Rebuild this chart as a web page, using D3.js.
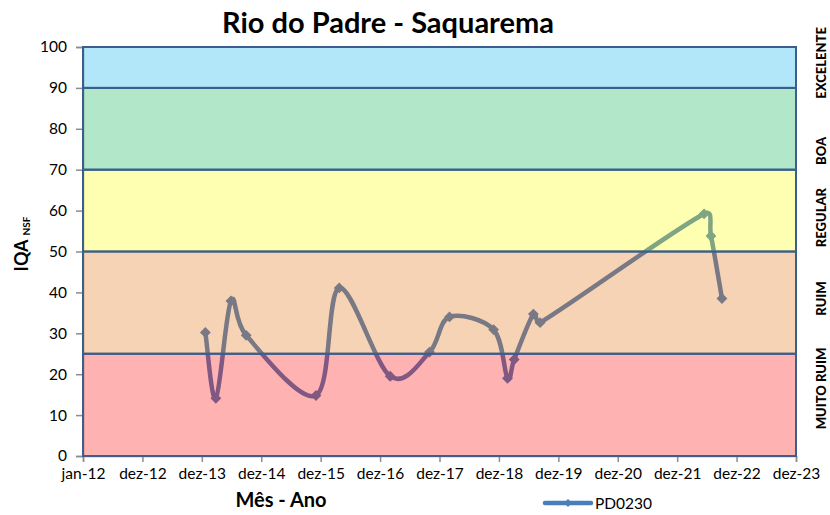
<!DOCTYPE html>
<html>
<head>
<meta charset="utf-8">
<script src="https://cdn.jsdelivr.net/npm/d3@7"></script>
<style>
  body { margin: 0; background: #fff; }
  text { font-family: Lato, "Open Sans", sans-serif; fill: #000; }
</style>
</head>
<body>
<svg id="drawing_region"></svg>
<script>
// amostras PD0230
const sampleDates = ["2014-01-17","2014-03-22","2014-06-22","2014-09-23","2015-11-23","2016-04-13",
    "2017-02-18","2017-10-16","2018-02-15","2018-11-11","2019-02-04","2019-03-17","2019-07-12",
    "2019-08-22","2022-05-19","2022-06-30","2022-09-05"];
const iqaValues = [30.2, 14.1, 37.9, 29.5, 14.8, 41.1, 19.5, 25.4, 34.0, 30.9, 19.0, 23.6, 34.7, 32.6, 59.2, 53.8, 38.5];

// faixas de qualidade
const bandLimits = [0, 25, 50, 70, 90, 100];
const bandNames = ["MUITO RUIM", "RUIM", "REGULAR", "BOA", "EXCELENTE"];
const bandColors = ["#FF0000", "#E46C0A", "#FFFF00", "#00B050", "#00B0F0"];
const bandLabelAt = [16.5, 38.5, 58.3, 74.6, 96.1];

const xTickLabels = ["jan-12","dez-12","dez-13","dez-14","dez-15","dez-16","dez-17",
    "dez-18","dez-19","dez-20","dez-21","dez-22","dez-23"];
const yTicks = [0, 10, 20, 30, 40, 50, 60, 70, 80, 90, 100];

const config = {
    width: 830,
    height: 515,
    margin: {top: 47, right: 34, bottom: 59, left: 83}
};

const parse = d3.timeParse("%Y-%m-%d");
const data = sampleDates.map((d, i) => ({date: parse(d), value: iqaValues[i]}));

const svg = d3.select("#drawing_region")
    .attr("width", config.width)
    .attr("height", config.height);

const inner_width = config.width - config.margin.left - config.margin.right;
const inner_height = config.height - config.margin.top - config.margin.bottom;

const chart = svg.append("g")
    .attr("transform", `translate(${config.margin.left}, ${config.margin.top})`);

const t0 = new Date(2012, 0, 1), t1 = new Date(2023, 11, 1);
const xscale = d3.scaleTime().domain([t0, t1]).range([0, inner_width]);
const yscale = d3.scaleLinear().domain([0, 100]).range([inner_height, 0]);

// excel divides the date range in 12 equal steps
const xTickValues = xTickLabels.map((l, i) => new Date(+t0 + i * (t1 - t0) / (xTickLabels.length - 1)));

// axes
const xaxis = d3.axisBottom(xscale)
    .tickValues(xTickValues)
    .tickFormat((d, i) => xTickLabels[i])
    .tickSize(6)
    .tickPadding(6);
const yaxis = d3.axisLeft(yscale)
    .tickValues(yTicks)
    .tickSize(7)
    .tickPadding(9);

const xg = chart.append("g")
    .attr("transform", `translate(0, ${inner_height})`)
    .call(xaxis);
const yg = chart.append("g").call(yaxis);
[xg, yg].forEach(g => {
    g.select(".domain").attr("stroke", "#8c8c8c").attr("stroke-width", 1.5);
    g.selectAll(".tick line").attr("stroke", "#8c8c8c").attr("stroke-width", 1.5);
    g.selectAll(".tick text").style("font-size", "15.5px").attr("fill", "#111");
});

// excel-like smoothing: catmull-rom tangents (1/6), clamped to half the segment
function smoothPath(pts) {
    const p = d3.path();
    const n = pts.length;
    const clamp = (v, lim) => {
        const len = Math.hypot(v[0], v[1]);
        return len > lim ? [v[0] * lim / len, v[1] * lim / len] : v;
    };
    p.moveTo(pts[0][0], pts[0][1]);
    for (let i = 0; i < n - 1; i++) {
        const a = pts[Math.max(i - 1, 0)], b = pts[i], c = pts[i + 1], d = pts[Math.min(i + 2, n - 1)];
        const half = Math.hypot(c[0] - b[0], c[1] - b[1]) / 2;
        const t1 = clamp([(c[0] - a[0]) / 6, (c[1] - a[1]) / 6], half);
        const t2 = clamp([(d[0] - b[0]) / 6, (d[1] - b[1]) / 6], half);
        p.bezierCurveTo(b[0] + t1[0], b[1] + t1[1], c[0] - t2[0], c[1] - t2[1], c[0], c[1]);
    }
    return p.toString();
}

// serie (drawn under the bands, as in the original)
chart.append("path")
    .attr("d", smoothPath(data.map(d => [xscale(d.date), yscale(d.value)])))
    .attr("fill", "none")
    .attr("stroke", "#4A7EBB")
    .attr("stroke-width", 4.5)
    .attr("stroke-linejoin", "round");

chart.selectAll(".marker").data(data)
    .enter()
    .append("path")
    .attr("class", "marker")
    .attr("d", d3.symbol(d3.symbolDiamond2, 75))
    .attr("transform", d => `translate(${xscale(d.date)}, ${yscale(d.value)})`)
    .attr("fill", "#4A7EBB");

// faixas
const bands = bandNames.map((n, i) => ({name: n, lo: bandLimits[i], hi: bandLimits[i + 1], color: bandColors[i], at: bandLabelAt[i]}));

chart.selectAll(".band").data(bands)
    .enter()
    .append("rect")
    .attr("class", "band")
    .attr("x", 0)
    .attr("y", d => yscale(d.hi))
    .attr("width", inner_width)
    .attr("height", d => yscale(d.lo) - yscale(d.hi))
    .attr("fill", d => d.color)
    .attr("fill-opacity", 0.3)
    .attr("stroke", "#3B5E8C")
    .attr("stroke-width", 2);

svg.selectAll(".band-label").data(bands)
    .enter()
    .append("text")
    .attr("class", "band-label")
    .attr("transform", d => `translate(826, ${config.margin.top + yscale(d.at)}) rotate(-90)`)
    .attr("text-anchor", "middle")
    .style("font-size", "13px")
    .style("font-weight", 900)
    .text(d => d.name);

// titles
svg.append("text")
    .attr("x", 388)
    .attr("y", 33)
    .attr("text-anchor", "middle")
    .style("font-size", "29px")
    .style("font-weight", "bold")
    .text("Rio do Padre - Saquarema");

svg.append("text")
    .attr("x", 281)
    .attr("y", 507)
    .attr("text-anchor", "middle")
    .style("font-size", "20px")
    .style("font-weight", "bold")
    .text("Mês - Ano");

const ytitle = svg.append("text")
    .attr("transform", `translate(28, 244) rotate(-90)`)
    .attr("text-anchor", "middle")
    .style("font-weight", "bold");
ytitle.append("tspan").style("font-size", "18px").text("IQA");
ytitle.append("tspan").style("font-size", "10px").attr("dx", 4).attr("dy", 2).text("NSF");

// legend
const legend = svg.append("g").attr("transform", "translate(545, 503)");
legend.append("line")
    .attr("x1", 0).attr("x2", 46)
    .attr("stroke", "#4A7EBB")
    .attr("stroke-width", 4.5)
    .attr("stroke-linecap", "round");
legend.append("path")
    .attr("d", d3.symbol(d3.symbolDiamond2, 40))
    .attr("transform", "translate(23, 0)")
    .attr("fill", "#4A7EBB");
legend.append("text")
    .attr("x", 50)
    .attr("y", 6)
    .style("font-size", "15.5px")
    .text("PD0230");
</script>
</body>
</html>
